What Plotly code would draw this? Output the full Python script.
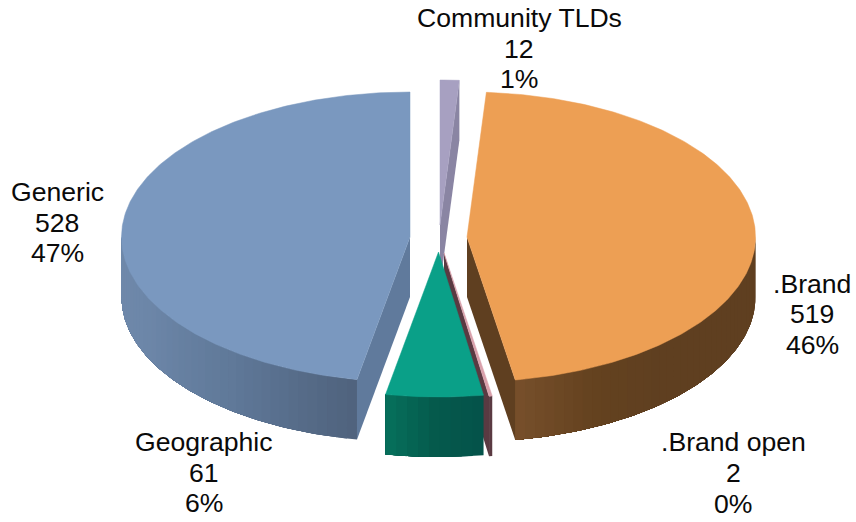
import math
import plotly.graph_objects as go

# Data, in the clockwise drawing order starting at 12 o'clock
categories = ["Community TLDs", ".Brand", ".Brand open", "Geographic", "Generic"]
values = [12, 519, 2, 61, 528]
percent_labels = ["1%", "46%", "0%", "6%", "47%"]

# Style and projection
apex_x = [440, 467, 444, 438.5, 410]
apex_y = [225, 237, 253, 252, 237]
top_colors = ["#a7a0c1", "#ed9f54", "#d9a0ab", "#0aa088", "#7a98bf"]
cut_colors = ["#8a85a3", "#5f3f20", "#5a3a42", "#04564a", "#607a9c"]
# Wall shades run from the wall's first angle to its last angle (clockwise)
wall_stops = [
    ["#8a85a3", "#8a85a3"],
    ["#5f3f20", "#5f3f20", "#5f3f20", "#5f3f20", "#64421f", "#774f2b"],
    ["#5a3a42", "#5a3a42"],
    ["#04524a", "#055a4c", "#06705c"],
    ["#4f627d", "#5f7898", "#6c86a8", "#7089ab"],
]
label_x = [519, 812, 733, 204, 57]
label_y = [[18, 49, 79], [284, 314, 345], [442, 473, 504], [442, 473, 503], [192, 223, 253]]
RX, RY, DEPTH = 288.5, 145, 60
FONT_SIZE = 26.6


def hex_rgb(h):
    return tuple(int(h[i:i + 2], 16) for i in (1, 3, 5))


def blend(stops, t):
    t = max(0.0, min(1.0, t)) * (len(stops) - 1)
    i = min(int(t), len(stops) - 2)
    a, b = hex_rgb(stops[i]), hex_rgb(stops[i + 1])
    f = t - i
    return "rgb(%d,%d,%d)" % tuple(round(a[k] + (b[k] - a[k]) * f) for k in range(3))


def rim(cx, cy, deg, drop=0.0):
    r = math.radians(deg)
    return cx + RX * math.sin(r), cy - RY * math.cos(r) + drop


def arc(cx, cy, a0, a1, drop=0.0):
    n = max(2, int(abs(a1 - a0) * 1.5) + 2)
    return [rim(cx, cy, a0 + (a1 - a0) * i / (n - 1), drop) for i in range(n)]


def poly(fig, pts, color, edge=0.0):
    xs = [p[0] for p in pts] + [pts[0][0]]
    ys = [p[1] for p in pts] + [pts[0][1]]
    fig.add_trace(go.Scatter(
        x=xs, y=ys, mode="lines", fill="toself", fillcolor=color,
        line=dict(color=color, width=edge), hoverinfo="skip", showlegend=False,
    ))


total = sum(values)
spans = []
angle = 0.0
for v in values:
    spans.append((angle, angle + 360.0 * v / total))
    angle += 360.0 * v / total

fig = go.Figure()

# Back to front painting order: Community, Generic, .Brand, .Brand open, Geographic
for idx in [0, 4, 1, 2, 3]:
    a0, a1 = spans[idx]
    cx, cy = apex_x[idx], apex_y[idx]

    # Cut face that looks towards the viewer
    edge = {0: a1, 1: a1, 2: a1, 4: a0}.get(idx)
    if edge is not None:
        ex, ey = rim(cx, cy, edge)
        poly(fig, [(cx, cy), (ex, ey), (ex, ey + DEPTH), (cx, cy + DEPTH)], cut_colors[idx])

    # Outer wall, visible between 3 and 9 o'clock. Each shade is painted from
    # its own angle to the end of the wall, so that no seams show.
    w0, w1 = max(a0, 90.0), min(a1, 270.0)
    if w1 > w0:
        strips = max(1, int((w1 - w0) / 2.0))
        for s in range(strips):
            b0 = w0 + (w1 - w0) * s / strips
            t = (s + 0.5) / strips
            poly(fig, arc(cx, cy, b0, w1) + arc(cx, cy, w1, b0, DEPTH), blend(wall_stops[idx], t))

    # Top face
    poly(fig, [(cx, cy)] + arc(cx, cy, a0, a1), top_colors[idx], 0.5)

# Data labels
for i, name in enumerate(categories):
    lines = [name, str(values[i]), percent_labels[i]]
    for text, y in zip(lines, label_y[i]):
        fig.add_annotation(
            x=label_x[i], y=y, text=text, showarrow=False,
            xanchor="center", yanchor="middle",
            font=dict(family="Liberation Sans", size=FONT_SIZE, color="#0a0a0a"),
        )

fig.update_layout(
    width=856, height=522, autosize=False,
    margin=dict(l=0, r=0, t=0, b=0),
    paper_bgcolor="white", plot_bgcolor="white", showlegend=False,
    xaxis=dict(range=[0, 856], visible=False, fixedrange=True),
    yaxis=dict(range=[522, 0], visible=False, fixedrange=True),
)
fig.write_html(
    "out.html",
    config={"displayModeBar": False},
    post_script="document.body.style.margin='0';document.body.style.overflow='hidden';",
)
